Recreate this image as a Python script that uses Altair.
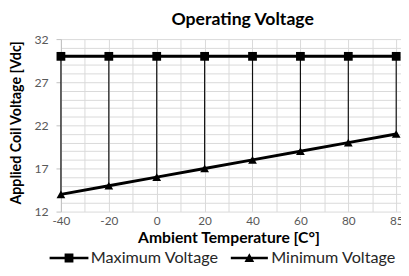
import json
import altair as alt
import pandas as pd

temps = ["-40", "-20", "0", "20", "40", "60", "80", "85"]
max_voltage = [30, 30, 30, 30, 30, 30, 30, 30]
min_voltage = [14, 15, 16, 17, 18, 19, 20, 21]
series_names = ["Maximum Voltage", "Minimum Voltage"]

idx = list(range(len(temps)))
wide = pd.DataFrame({"idx": idx, "temp": temps, "max": max_voltage, "min": min_voltage})
long = pd.concat([
    pd.DataFrame({"idx": idx, "temp": temps, "series": series_names[0], "value": max_voltage}),
    pd.DataFrame({"idx": idx, "temp": temps, "series": series_names[1], "value": min_voltage}),
])

FONT = "Lato"
label_expr_x = "datum.value % 1 === 0 ? " + json.dumps(temps) + "[datum.value] : ''"
major_test = "(datum.value - 12) % 5 === 0"

x_axis = alt.Axis(
    values=[i / 2 for i in range(2 * len(temps) - 1)],
    labelExpr=label_expr_x,
    labelOverlap=False, labelFlush=False,
    ticks=False, domain=False,
    grid=True, gridColor="#d9d9d9", gridWidth=1,
    labelFont=FONT, labelFontSize=12, labelColor="#595959", labelPadding=4,
    title="Ambient Temperature [C°]", titleFont=FONT, titleFontSize=16,
    titleFontWeight="bold", titleColor="#000000",
    titleX=171, titleY=27, titleBaseline="middle", titleAlign="center",
)
y_axis = alt.Axis(
    values=list(range(12, 33)),
    labelExpr="(datum.value - 12) % 5 === 0 ? datum.label : ''",
    tickOpacity={"condition": {"test": major_test, "value": 1}, "value": 0},
    tickSize=5, tickColor="#bfbfbf",
    domain=True, domainColor="#bfbfbf",
    grid=True, gridColor="#d9d9d9", gridWidth=1,
    labelFont=FONT, labelFontSize=12.5, labelColor="#595959", labelPadding=8,
    title="Applied Coil Voltage [Vdc]", titleFont=FONT, titleFontSize=14.5,
    titleFontWeight="bold", titleColor="#000000",
    titleX=-45, titleY=85, titleBaseline="middle", titleAlign="center", titleAngle=-90,
)

x_enc = alt.X("idx:Q", scale=alt.Scale(domain=[0, 7.1], nice=False, zero=False), axis=x_axis)
y_scale = alt.Scale(domain=[12, 32], nice=False, zero=False)

rules = alt.Chart(wide).mark_rule(color="#111111", strokeWidth=1.2).encode(
    x=x_enc,
    y=alt.Y("min:Q", scale=y_scale, axis=y_axis),
    y2="max:Q",
)

lines = alt.Chart(long).mark_line(color="#000000", strokeWidth=3).encode(
    x=x_enc,
    y=alt.Y("value:Q", scale=y_scale, axis=y_axis),
    detail="series:N",
)

points = alt.Chart(long).mark_point(filled=True, color="#000000", opacity=1).encode(
    x=x_enc,
    y=alt.Y("value:Q", scale=y_scale, axis=y_axis),
    shape=alt.Shape("series:N", scale=alt.Scale(domain=series_names, range=["square", "triangle-up"]), legend=None),
    size=alt.value(80),
)

sq_path = "M-4.4,-0.3L4.4,-0.3L4.4,0.3L-4.4,0.3Z M-1,-1L1,-1L1,1L-1,1Z"
tri_path = "M-4.2,-0.3L4.2,-0.3L4.2,0.3L-4.2,0.3Z M-1.1,0.9L0,-1.1L1.1,0.9Z"

legend_layer = alt.Chart(long).transform_filter("false").mark_point(filled=True, color="#000000").encode(
    x=x_enc,
    y=alt.Y("value:Q", scale=y_scale, axis=y_axis),
    shape=alt.Shape(
        "series:N",
        scale=alt.Scale(domain=series_names, range=[sq_path, tri_path]),
        legend=alt.Legend(
            title=None, orient="none", direction="horizontal", columns=2,
            legendX=0, legendY=215,
            symbolSize=81, symbolFillColor="#000000", symbolStrokeWidth=0, symbolOpacity=1,
            labelFont=FONT, labelFontSize=16.5, labelColor="#262626", labelOffset=14,
            columnPadding=12,
        ),
    ),
)

chart = alt.layer(rules, lines, points, legend_layer).resolve_scale(shape="independent").properties(
    width=347, height=176,
    autosize=alt.AutoSizeParams(type="none"),
    padding={"left": 54, "top": 29, "right": 0, "bottom": 63},
    title=alt.Title("Operating Voltage", font=FONT, fontSize=18, fontWeight="bold",
                    color="#000000", anchor="middle", dx=12, offset=4),
).configure_view(stroke=None)

chart.save("out.html", embed_options={"renderer": "svg", "actions": False})
